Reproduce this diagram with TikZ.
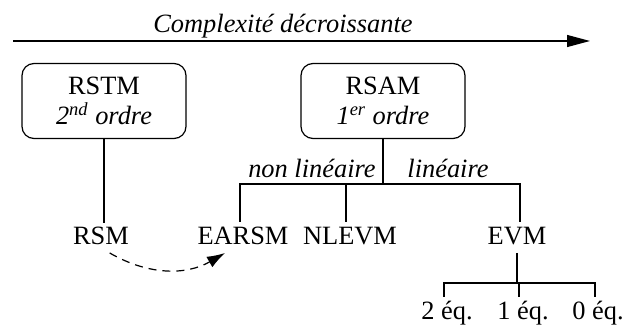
\documentclass[tikz,border=0pt]{standalone}
\usepackage{fontspec}
\setmainfont{Liberation Serif}
\usetikzlibrary{arrows.meta, positioning}
\tikzstyle{model} = [rectangle, rounded corners=6pt, minimum width=82pt, minimum height=37.5pt, inner sep=0pt, align=center, draw=black, line width=0.6pt]
\tikzstyle{leaf} = [inner sep=0pt, outer sep=2.5pt, text height=8.6pt, text depth=1.5pt, anchor=base]
\tikzstyle{tag} = [inner sep=0pt, font=\fontsize{13.2}{15}\selectfont\itshape]
\tikzstyle{branch} = [line width=0.6pt]
\tikzstyle{trend} = [line width=0.6pt, -{Triangle[length=11.5pt, width=6pt]}]
\tikzstyle{cascade} = [line width=0.6pt, dash pattern=on 4pt off 3pt, -{Latex[length=9pt, width=6pt]}]

\begin{document}
\begin{tikzpicture}[x=0.5pt, y=0.5pt, font=\fontsize{13.2}{15}\selectfont]
\useasboundingbox (0,0) rectangle (623,-326);

% axe de complexite
\coordinate (left) at (13,-41);
\coordinate (right) at (590,-41);
\draw [trend] (left) -- (right);
\node (title) [tag, anchor=base] at (283,-33) {Complexité décroissante};

% modeles
\node (rstm) [model] at (104,-101) {RSTM\\\textit{2\textsuperscript{nd} ordre}};
\node (rsam) [model] at (383,-101) {RSAM\\\textit{1\textsuperscript{er} ordre}};

\node (rsm) [leaf] at (101,-245) {RSM};
\node (earsm) [leaf] at (243,-245) {EARSM};
\node (nlevm) [leaf] at (350,-245) {NLEVM};
\node (evm) [leaf] at (517,-245) {EVM};

\node (eq2) [leaf] at (447,-320) {2 éq.};
\node (eq1) [leaf] at (523,-320) {1 éq.};
\node (eq0) [leaf] at (598,-320) {0 éq.};

\coordinate (split) at (383,-184);
\coordinate (evmsplit) at (519,-283);

\node (nonlin) [tag, anchor=base east] at (376,-178) {non linéaire};
\node (lin) [tag, anchor=base] at (448,-178) {linéaire};

% branches
\draw [branch] (rstm.south) -- (rstm.south |- rsm.north);
\draw [branch] (rsam.south) -- (split);
\draw [branch] (240,-222) |- (split) -| (520,-222);
\draw [branch] (346,-184) -- (346,-222);
\draw [branch] (evm.south) -- (evm.south |- evmsplit);
\draw [branch] (444,-297) |- (evmsplit) -| (595,-297);
\draw [branch] (519,-283) -- (519,-297);

\draw [cascade] (rsm.-60) to[out=-30, in=-150] (earsm.-140);
\end{tikzpicture}
\end{document}
